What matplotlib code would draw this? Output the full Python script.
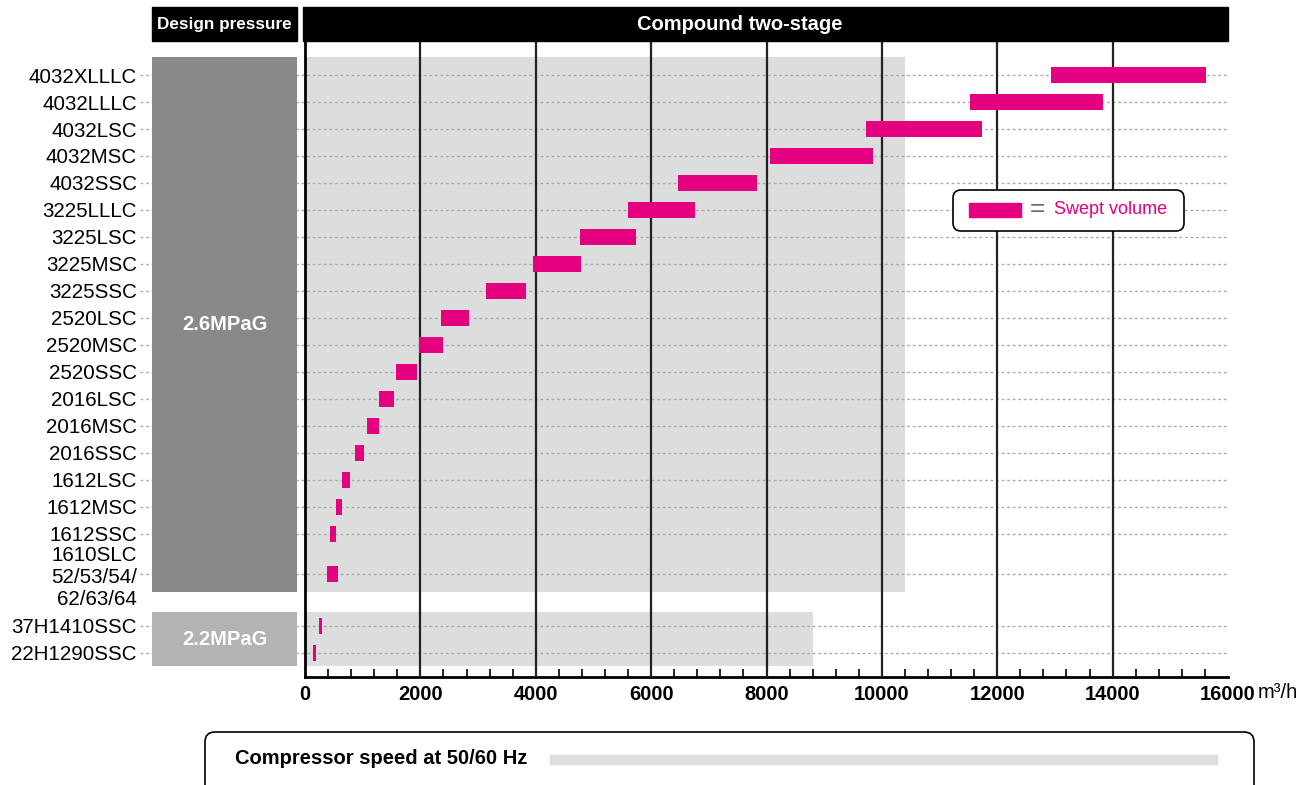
import numpy as np
import matplotlib
matplotlib.use("Agg")
from matplotlib import pyplot as plt
from matplotlib.patches import Rectangle, FancyBboxPatch
from matplotlib.transforms import blended_transform_factory
from matplotlib.ticker import MultipleLocator

plt.rcParams["font.family"] = ["Liberation Sans", "DejaVu Sans"]

# swept volume range per model (m3/h)
models = [
    "4032XLLLC", "4032LLLC", "4032LSC", "4032MSC", "4032SSC",
    "3225LLLC", "3225LSC", "3225MSC", "3225SSC",
    "2520LSC", "2520MSC", "2520SSC",
    "2016LSC", "2016MSC", "2016SSC",
    "1612LSC", "1612MSC", "1612SSC",
    "1610SLC\n52/53/54/\n62/63/64",
    "37H1410SSC", "22H1290SSC",
]
vol_min = [12930, 11530, 9720, 8060, 6460,
           5600, 4770, 3950, 3140,
           2360, 1980, 1580,
           1275, 1067, 860,
           640, 540, 430,
           380,
           240, 140]
vol_max = [15620, 13830, 11730, 9840, 7830,
           6760, 5740, 4780, 3830,
           2840, 2390, 1940,
           1535, 1275, 1030,
           780, 640, 540,
           570,
           300, 190]
pressure = ["2.6MPaG"] * 19 + ["2.2MPaG"] * 2
groups = ["2.6MPaG", "2.2MPaG"]
speed_limit = [10400, 8800]  # upper end of compressor speed range

PINK = "#e5007f"
BG = "#dcdddd"
BOX_COL = {"2.6MPaG": "#898989", "2.2MPaG": "#b3b3b3"}

W, H = 1304, 785


def fx(px):
    return px / W


def fy(py):
    return 1 - py / H


def inch(px, py):
    return px / 100, (H - py) / 100


# row positions: extra room for the 3-line label and the group break
gaps = np.ones(len(models))
gaps[18] = 1.48
gaps[19] = 1.93
pos = np.cumsum(gaps) - 1

fig = plt.figure(figsize=(W / 100, H / 100), dpi=100)
ax = fig.add_axes([fx(305), fy(677), fx(1228) - fx(305), (677 - 41) / H])
ax_dp = fig.add_axes([fx(152), fy(677), fx(297) - fx(152), (677 - 41) / H], sharey=ax)

# grey speed range background + design pressure boxes
for g, lim in zip(groups, speed_limit):
    idx = [i for i, p in enumerate(pressure) if p == g]
    pad = 0.67 if g == "2.6MPaG" else 0.5
    y0 = pos[idx[0]] - pad
    y1 = pos[idx[-1]] + pad
    ax.barh((y0 + y1) / 2, lim, left=0, height=y1 - y0, color=BG, zorder=1)
    ax_dp.barh((y0 + y1) / 2, 1, left=0, height=y1 - y0, color=BOX_COL[g], zorder=3)
    ax_dp.text(0.5, (y0 + y1) / 2, g, ha="center", va="center", color="white",
               fontsize=14.5, fontweight="bold", zorder=4)

# dotted row lines running from the labels to the right end
trans = blended_transform_factory(fig.transFigure, ax.transData)
for p in pos:
    ax.plot([fx(140), fx(1228)], [p, p], transform=trans, clip_on=False,
            color="#aaaaaa", lw=1, ls=(0, (2, 2)), zorder=2)

for xv in range(2000, 16000, 2000):
    ax.axvline(xv, color="#222222", lw=1.6, zorder=3)

ax.barh(pos, np.array(vol_max) - np.array(vol_min), left=vol_min, height=0.6,
        color=PINK, zorder=5)

ax.set_xlim(0, 16000)
ax.set_ylim(22.3, -1.26)
ax.patch.set_visible(False)
for s in ["top", "right"]:
    ax.spines[s].set_visible(False)
ax.spines["left"].set_linewidth(2)
ax.spines["bottom"].set_linewidth(2)
ax.xaxis.set_major_locator(MultipleLocator(2000))
ax.xaxis.set_minor_locator(MultipleLocator(400))
ax.tick_params(axis="x", which="major", length=0, pad=6, labelsize=14.5)
ax.tick_params(axis="x", which="minor", direction="in", length=6, width=1.2)
for lab in ax.get_xticklabels():
    lab.set_fontweight("bold")
ax.tick_params(axis="y", left=False, labelleft=False)

ax_dp.set_xlim(0, 1)
ax_dp.patch.set_visible(False)
for s in ax_dp.spines.values():
    s.set_visible(False)
ax_dp.set_xticks([])
ax_dp.set_yticks(pos)
ax_dp.set_yticklabels(models, fontsize=14.8)
ax_dp.tick_params(axis="y", length=0, pad=10.8)
ax_dp.set_ylim(22.3, -1.26)

fig.text(fx(1258), fy(692), "m³/h", ha="left", va="center", fontsize=14.5)

# header bars
fig.add_artist(Rectangle((fx(152), fy(41)), fx(297) - fx(152), 34 / H,
                         transform=fig.transFigure, color="black"))
fig.text(fx(224.5), fy(24), "Design pressure", ha="center", va="center",
         color="white", fontsize=12.3, fontweight="bold")
fig.add_artist(Rectangle((fx(303), fy(41)), fx(1228) - fx(303), 34 / H,
                         transform=fig.transFigure, color="black"))
fig.text(fx(740), fy(24), "Compound two-stage", ha="center", va="center",
         color="white", fontsize=14.5, fontweight="bold")

# legend box
lx, ly = inch(953, 231)
fig.add_artist(FancyBboxPatch((lx, ly), 2.31, 0.41,
                              boxstyle="round,pad=0,rounding_size=0.08",
                              fc="white", ec="black", lw=1.2,
                              transform=fig.dpi_scale_trans))
sx, sy = inch(969, 217)
fig.add_artist(Rectangle((sx, sy), 0.52, 0.14, color=PINK,
                         transform=fig.dpi_scale_trans))
fig.text(fx(1037), fy(209), "=", ha="center", va="center", color="#666666",
         fontsize=19, fontweight="light")
fig.text(fx(1054), fy(210), "Swept volume", ha="left", va="center", color=PINK,
         fontsize=13)

# compressor speed key at the bottom
bx, by = inch(205, 810)
fig.add_artist(FancyBboxPatch((bx, by), 10.49, 0.78,
                              boxstyle="round,pad=0,rounding_size=0.1",
                              fc="white", ec="black", lw=1.2,
                              transform=fig.dpi_scale_trans))
fig.text(fx(235), fy(759), "Compressor speed at 50/60 Hz", ha="left",
         va="center", fontsize=14.5, fontweight="bold")
gx, gy = inch(550, 764)
fig.add_artist(Rectangle((gx, gy), 6.67, 0.09, color=BG,
                         transform=fig.dpi_scale_trans))

fig.savefig("out.png", dpi=100)
